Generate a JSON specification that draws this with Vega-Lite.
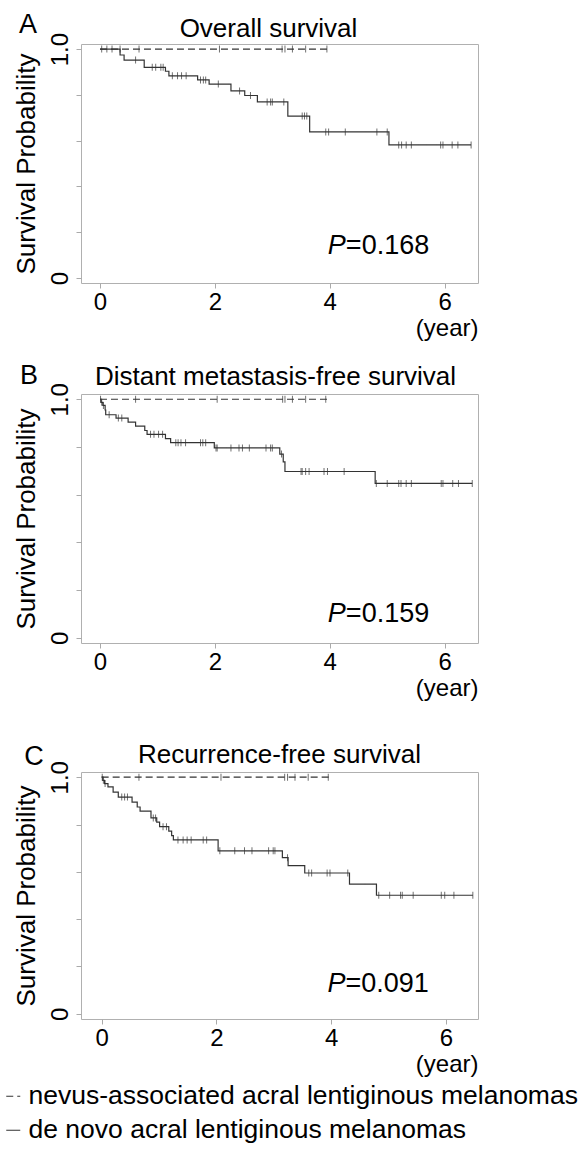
{
  "$schema": "https://vega.github.io/schema/vega-lite/v6.json",
  "autosize": {"type": "pad"},
  "padding": {"left": 0, "top": 10, "right": 0, "bottom": 0},
  "background": "white",
  "config": {
    "font": "Liberation Sans",
    "view": {"stroke": "#b0b0b0", "strokeWidth": 1},
    "title": {"fontSize": 26, "fontWeight": "normal", "font": "Liberation Sans", "color": "#000", "frame": "group", "anchor": "middle", "offset": 7},
    "axis": {"grid": false, "domain": false, "tickColor": "#aaaaaa", "tickSize": 5, "labelFontSize": 24, "titleFontWeight": "normal", "labelColor": "#000", "titleColor": "#000", "labelFlush": false, "labelOverlap": false, "labelFont": "Liberation Sans", "titleFont": "Liberation Sans"},
    "axisY": {"labelAngle": -90, "labelAlign": "center", "labelBaseline": "bottom", "labelPadding": 4, "titlePadding": 9, "titleFontSize": 26, "labelExpr": "datum.value==0?'0':datum.value==1?'1.0':''"},
    "axisX": {"labelPadding": 2, "titleAnchor": "end", "titleAlign": "right", "titlePadding": 2, "titleFontSize": 24},
    "line": {"color": "#333333", "strokeWidth": 1.2},
    "tick": {"color": "#333333", "thickness": 1, "size": 7},
    "text": {"color": "#000", "font": "Liberation Sans"},
    "legend": {"orient": "none", "legendX": -81, "legendY": 1039, "title": null, "padding": 0, "labelFontSize": 26.5, "labelFont": "Liberation Sans", "labelColor": "#000", "labelLimit": 1000, "symbolType": "stroke", "symbolSize": 196, "symbolStrokeWidth": 1.2, "symbolStrokeColor": "#333333", "labelOffset": 2, "rowPadding": 7, "direction": "vertical"}
  },
  "datasets": {
    "curves": [
      {"panel": "A", "g": "N", "time": 0, "surv": 1},
      {"panel": "A", "g": "N", "time": 3.97, "surv": 1},
      {"panel": "A", "g": "D", "time": 0, "surv": 1},
      {"panel": "A", "g": "D", "time": 0.35, "surv": 0.974},
      {"panel": "A", "g": "D", "time": 0.42, "surv": 0.952},
      {"panel": "A", "g": "D", "time": 0.77, "surv": 0.92},
      {"panel": "A", "g": "D", "time": 1.14, "surv": 0.903},
      {"panel": "A", "g": "D", "time": 1.2, "surv": 0.883},
      {"panel": "A", "g": "D", "time": 1.7, "surv": 0.865},
      {"panel": "A", "g": "D", "time": 1.9, "surv": 0.847},
      {"panel": "A", "g": "D", "time": 2.28, "surv": 0.817},
      {"panel": "A", "g": "D", "time": 2.52, "surv": 0.797},
      {"panel": "A", "g": "D", "time": 2.74, "surv": 0.769},
      {"panel": "A", "g": "D", "time": 3.27, "surv": 0.707},
      {"panel": "A", "g": "D", "time": 3.65, "surv": 0.638},
      {"panel": "A", "g": "D", "time": 5.03, "surv": 0.581},
      {"panel": "A", "g": "D", "time": 6.46, "surv": 0.581},
      {"panel": "B", "g": "N", "time": 0, "surv": 1},
      {"panel": "B", "g": "N", "time": 3.96, "surv": 1},
      {"panel": "B", "g": "D", "time": 0, "surv": 1},
      {"panel": "B", "g": "D", "time": 0.02, "surv": 0.987},
      {"panel": "B", "g": "D", "time": 0.05, "surv": 0.974},
      {"panel": "B", "g": "D", "time": 0.09, "surv": 0.955},
      {"panel": "B", "g": "D", "time": 0.1, "surv": 0.935},
      {"panel": "B", "g": "D", "time": 0.28, "surv": 0.921},
      {"panel": "B", "g": "D", "time": 0.49, "surv": 0.904},
      {"panel": "B", "g": "D", "time": 0.62, "surv": 0.887},
      {"panel": "B", "g": "D", "time": 0.78, "surv": 0.869},
      {"panel": "B", "g": "D", "time": 0.82, "surv": 0.853},
      {"panel": "B", "g": "D", "time": 1.14, "surv": 0.835},
      {"panel": "B", "g": "D", "time": 1.23, "surv": 0.818},
      {"panel": "B", "g": "D", "time": 1.99, "surv": 0.796},
      {"panel": "B", "g": "D", "time": 3.13, "surv": 0.77},
      {"panel": "B", "g": "D", "time": 3.19, "surv": 0.737},
      {"panel": "B", "g": "D", "time": 3.22, "surv": 0.697},
      {"panel": "B", "g": "D", "time": 4.79, "surv": 0.647},
      {"panel": "B", "g": "D", "time": 6.48, "surv": 0.647},
      {"panel": "C", "g": "N", "time": 0, "surv": 1},
      {"panel": "C", "g": "N", "time": 3.96, "surv": 1},
      {"panel": "C", "g": "D", "time": 0, "surv": 1},
      {"panel": "C", "g": "D", "time": 0.02, "surv": 0.987},
      {"panel": "C", "g": "D", "time": 0.05, "surv": 0.973},
      {"panel": "C", "g": "D", "time": 0.11, "surv": 0.959},
      {"panel": "C", "g": "D", "time": 0.2, "surv": 0.937},
      {"panel": "C", "g": "D", "time": 0.29, "surv": 0.916},
      {"panel": "C", "g": "D", "time": 0.53, "surv": 0.895},
      {"panel": "C", "g": "D", "time": 0.62, "surv": 0.874},
      {"panel": "C", "g": "D", "time": 0.67, "surv": 0.857},
      {"panel": "C", "g": "D", "time": 0.86, "surv": 0.828},
      {"panel": "C", "g": "D", "time": 0.96, "surv": 0.81},
      {"panel": "C", "g": "D", "time": 1.01, "surv": 0.791},
      {"panel": "C", "g": "D", "time": 1.17, "surv": 0.772},
      {"panel": "C", "g": "D", "time": 1.22, "surv": 0.753},
      {"panel": "C", "g": "D", "time": 1.25, "surv": 0.735},
      {"panel": "C", "g": "D", "time": 2.03, "surv": 0.689},
      {"panel": "C", "g": "D", "time": 3.15, "surv": 0.66},
      {"panel": "C", "g": "D", "time": 3.25, "surv": 0.626},
      {"panel": "C", "g": "D", "time": 3.54, "surv": 0.595},
      {"panel": "C", "g": "D", "time": 4.32, "surv": 0.548},
      {"panel": "C", "g": "D", "time": 4.79, "surv": 0.501},
      {"panel": "C", "g": "D", "time": 6.47, "surv": 0.501}
    ],
    "censor": [
      {"panel": "A", "time": 0.03, "surv": 1}, {"panel": "A", "time": 0.12, "surv": 1}, {"panel": "A", "time": 0.21, "surv": 1}, {"panel": "A", "time": 0.35, "surv": 1}, {"panel": "A", "time": 0.68, "surv": 1}, {"panel": "A", "time": 2.08, "surv": 1}, {"panel": "A", "time": 3.17, "surv": 1}, {"panel": "A", "time": 3.22, "surv": 1}, {"panel": "A", "time": 3.35, "surv": 1}, {"panel": "A", "time": 3.58, "surv": 1}, {"panel": "A", "time": 3.95, "surv": 1},
      {"panel": "A", "time": 0.62, "surv": 0.952}, {"panel": "A", "time": 0.91, "surv": 0.92}, {"panel": "A", "time": 0.97, "surv": 0.92}, {"panel": "A", "time": 1.06, "surv": 0.92}, {"panel": "A", "time": 1.1, "surv": 0.92},
      {"panel": "A", "time": 1.26, "surv": 0.883}, {"panel": "A", "time": 1.35, "surv": 0.883}, {"panel": "A", "time": 1.42, "surv": 0.883}, {"panel": "A", "time": 1.5, "surv": 0.883},
      {"panel": "A", "time": 1.75, "surv": 0.865}, {"panel": "A", "time": 1.8, "surv": 0.865}, {"panel": "A", "time": 1.84, "surv": 0.865}, {"panel": "A", "time": 2.06, "surv": 0.847}, {"panel": "A", "time": 2.43, "surv": 0.817}, {"panel": "A", "time": 2.62, "surv": 0.797},
      {"panel": "A", "time": 2.91, "surv": 0.769}, {"panel": "A", "time": 2.97, "surv": 0.769}, {"panel": "A", "time": 3.0, "surv": 0.769}, {"panel": "A", "time": 3.2, "surv": 0.769},
      {"panel": "A", "time": 3.52, "surv": 0.707}, {"panel": "A", "time": 3.56, "surv": 0.707}, {"panel": "A", "time": 3.6, "surv": 0.707},
      {"panel": "A", "time": 3.93, "surv": 0.638}, {"panel": "A", "time": 3.98, "surv": 0.638}, {"panel": "A", "time": 4.27, "surv": 0.638}, {"panel": "A", "time": 4.82, "surv": 0.638}, {"panel": "A", "time": 5.0, "surv": 0.638},
      {"panel": "A", "time": 5.2, "surv": 0.581}, {"panel": "A", "time": 5.25, "surv": 0.581}, {"panel": "A", "time": 5.33, "surv": 0.581}, {"panel": "A", "time": 5.42, "surv": 0.581}, {"panel": "A", "time": 5.93, "surv": 0.581}, {"panel": "A", "time": 5.97, "surv": 0.581}, {"panel": "A", "time": 6.13, "surv": 0.581}, {"panel": "A", "time": 6.23, "surv": 0.581}, {"panel": "A", "time": 6.46, "surv": 0.581},
      {"panel": "B", "time": 0.01, "surv": 1}, {"panel": "B", "time": 0.62, "surv": 1}, {"panel": "B", "time": 2.04, "surv": 1}, {"panel": "B", "time": 3.18, "surv": 1}, {"panel": "B", "time": 3.22, "surv": 1}, {"panel": "B", "time": 3.35, "surv": 1}, {"panel": "B", "time": 3.58, "surv": 1}, {"panel": "B", "time": 3.93, "surv": 1},
      {"panel": "B", "time": 0.03, "surv": 0.987}, {"panel": "B", "time": 0.06, "surv": 0.974}, {"panel": "B", "time": 0.16, "surv": 0.935}, {"panel": "B", "time": 0.32, "surv": 0.921}, {"panel": "B", "time": 0.38, "surv": 0.921},
      {"panel": "B", "time": 0.88, "surv": 0.853}, {"panel": "B", "time": 0.94, "surv": 0.853}, {"panel": "B", "time": 1.02, "surv": 0.853}, {"panel": "B", "time": 1.09, "surv": 0.853},
      {"panel": "B", "time": 1.32, "surv": 0.818}, {"panel": "B", "time": 1.36, "surv": 0.818}, {"panel": "B", "time": 1.41, "surv": 0.818}, {"panel": "B", "time": 1.49, "surv": 0.818}, {"panel": "B", "time": 1.75, "surv": 0.818}, {"panel": "B", "time": 1.79, "surv": 0.818}, {"panel": "B", "time": 1.84, "surv": 0.818},
      {"panel": "B", "time": 2.02, "surv": 0.796}, {"panel": "B", "time": 2.04, "surv": 0.796}, {"panel": "B", "time": 2.28, "surv": 0.796}, {"panel": "B", "time": 2.42, "surv": 0.796}, {"panel": "B", "time": 2.48, "surv": 0.796}, {"panel": "B", "time": 2.6, "surv": 0.796}, {"panel": "B", "time": 2.89, "surv": 0.796}, {"panel": "B", "time": 2.97, "surv": 0.796}, {"panel": "B", "time": 3.0, "surv": 0.796},
      {"panel": "B", "time": 3.16, "surv": 0.77},
      {"panel": "B", "time": 3.5, "surv": 0.697}, {"panel": "B", "time": 3.52, "surv": 0.697}, {"panel": "B", "time": 3.58, "surv": 0.697}, {"panel": "B", "time": 3.64, "surv": 0.697}, {"panel": "B", "time": 3.9, "surv": 0.697}, {"panel": "B", "time": 3.96, "surv": 0.697}, {"panel": "B", "time": 4.25, "surv": 0.697},
      {"panel": "B", "time": 4.81, "surv": 0.647}, {"panel": "B", "time": 5.0, "surv": 0.647}, {"panel": "B", "time": 5.2, "surv": 0.647}, {"panel": "B", "time": 5.24, "surv": 0.647}, {"panel": "B", "time": 5.33, "surv": 0.647}, {"panel": "B", "time": 5.42, "surv": 0.647}, {"panel": "B", "time": 5.94, "surv": 0.647}, {"panel": "B", "time": 5.97, "surv": 0.647}, {"panel": "B", "time": 6.14, "surv": 0.647}, {"panel": "B", "time": 6.24, "surv": 0.647}, {"panel": "B", "time": 6.48, "surv": 0.647},
      {"panel": "C", "time": 0.01, "surv": 1}, {"panel": "C", "time": 0.65, "surv": 1}, {"panel": "C", "time": 2.08, "surv": 1}, {"panel": "C", "time": 3.19, "surv": 1}, {"panel": "C", "time": 3.24, "surv": 1}, {"panel": "C", "time": 3.37, "surv": 1}, {"panel": "C", "time": 3.6, "surv": 1}, {"panel": "C", "time": 3.95, "surv": 1},
      {"panel": "C", "time": 0.03, "surv": 0.987}, {"panel": "C", "time": 0.06, "surv": 0.973}, {"panel": "C", "time": 0.35, "surv": 0.916}, {"panel": "C", "time": 0.4, "surv": 0.916}, {"panel": "C", "time": 0.45, "surv": 0.916},
      {"panel": "C", "time": 0.9, "surv": 0.828}, {"panel": "C", "time": 0.94, "surv": 0.828}, {"panel": "C", "time": 1.07, "surv": 0.791}, {"panel": "C", "time": 1.13, "surv": 0.791},
      {"panel": "C", "time": 1.33, "surv": 0.735}, {"panel": "C", "time": 1.42, "surv": 0.735}, {"panel": "C", "time": 1.49, "surv": 0.735}, {"panel": "C", "time": 1.56, "surv": 0.735}, {"panel": "C", "time": 1.77, "surv": 0.735}, {"panel": "C", "time": 1.83, "surv": 0.735},
      {"panel": "C", "time": 2.06, "surv": 0.689}, {"panel": "C", "time": 2.32, "surv": 0.689}, {"panel": "C", "time": 2.49, "surv": 0.689}, {"panel": "C", "time": 2.62, "surv": 0.689}, {"panel": "C", "time": 2.91, "surv": 0.689}, {"panel": "C", "time": 2.99, "surv": 0.689}, {"panel": "C", "time": 3.02, "surv": 0.689},
      {"panel": "C", "time": 3.24, "surv": 0.66},
      {"panel": "C", "time": 3.61, "surv": 0.595}, {"panel": "C", "time": 3.66, "surv": 0.595}, {"panel": "C", "time": 3.93, "surv": 0.595}, {"panel": "C", "time": 3.98, "surv": 0.595}, {"panel": "C", "time": 4.29, "surv": 0.595},
      {"panel": "C", "time": 4.83, "surv": 0.501}, {"panel": "C", "time": 5.02, "surv": 0.501}, {"panel": "C", "time": 5.21, "surv": 0.501}, {"panel": "C", "time": 5.24, "surv": 0.501}, {"panel": "C", "time": 5.43, "surv": 0.501}, {"panel": "C", "time": 5.92, "surv": 0.501}, {"panel": "C", "time": 5.98, "surv": 0.501}, {"panel": "C", "time": 6.14, "surv": 0.501}, {"panel": "C", "time": 6.47, "surv": 0.501}
    ],
    "ann": [
      {"panel": "A", "letter": "A", "p": "=0.168"},
      {"panel": "B", "letter": "B", "p": "=0.159"},
      {"panel": "C", "letter": "C", "p": "=0.091"}
    ]
  },
  "bounds": "flush",
  "spacing": 111,
  "resolve": {"scale": {"strokeDash": "shared"}, "legend": {"strokeDash": "shared"}},
  "vconcat": [
    {
      "width": 397, "height": 239,
      "title": {"text": "Overall survival", "dx": -11, "dy": 38},
      "layer": [
        {"data": {"name": "curves"}, "transform": [{"filter": "datum.panel=='A'"}], "mark": {"type": "line", "interpolate": "step-after"},
         "encoding": {
           "x": {"field": "time", "type": "quantitative", "title": "(year)", "scale": {"domain": [-0.33, 6.58], "nice": false, "zero": false}, "axis": {"values": [0, 2, 4, 6], "format": "d"}},
           "y": {"field": "surv", "type": "quantitative", "title": "Survival Probability", "scale": {"domain": [-0.022, 1.022], "nice": false, "zero": false}, "axis": {"values": [0, 0.2, 0.4, 0.6, 0.8, 1]}},
           "strokeDash": {"field": "g", "type": "nominal", "scale": {"domain": ["N", "D"], "range": [[7, 4], [1, 0]]}, "legend": {"labelExpr": "datum.value=='N'?'nevus-associated acral lentiginous melanomas':'de novo acral lentiginous melanomas'"}}}},
        {"data": {"name": "censor"}, "transform": [{"filter": "datum.panel=='A'"}], "mark": {"type": "tick", "orient": "vertical"},
         "encoding": {"x": {"field": "time", "type": "quantitative", "title": "(year)"}, "y": {"field": "surv", "type": "quantitative", "title": "Survival Probability"}}},
        {"data": {"name": "ann"}, "transform": [{"filter": "datum.panel=='A'"}], "mark": {"type": "text", "align": "left", "baseline": "alphabetic", "fontSize": 27},
         "encoding": {"x": {"datum": -1.41, "type": "quantitative"}, "y": {"datum": 1.07, "type": "quantitative"}, "text": {"field": "letter"}}},
        {"data": {"name": "ann"}, "transform": [{"filter": "datum.panel=='A'"}], "mark": {"type": "text", "align": "right", "baseline": "alphabetic", "fontSize": 27, "fontStyle": "italic", "text": "P"},
         "encoding": {"x": {"datum": 4.28, "type": "quantitative"}, "y": {"datum": 0.103, "type": "quantitative"}}},
        {"data": {"name": "ann"}, "transform": [{"filter": "datum.panel=='A'"}], "mark": {"type": "text", "align": "left", "baseline": "alphabetic", "fontSize": 27},
         "encoding": {"x": {"datum": 4.28, "type": "quantitative"}, "y": {"datum": 0.103, "type": "quantitative"}, "text": {"field": "p"}}}
      ]
    },
    {
      "bounds": "flush",
      "spacing": 129,
      "resolve": {"scale": {"strokeDash": "shared"}, "legend": {"strokeDash": "shared"}},
      "vconcat": [
        {
          "width": 397, "height": 249,
          "title": {"text": "Distant metastasis-free survival", "dx": -4, "dy": 35},
          "layer": [
            {"data": {"name": "curves"}, "transform": [{"filter": "datum.panel=='B'"}], "mark": {"type": "line", "interpolate": "step-after"},
             "encoding": {
               "x": {"field": "time", "type": "quantitative", "title": "(year)", "scale": {"domain": [-0.33, 6.58], "nice": false, "zero": false}, "axis": {"values": [0, 2, 4, 6], "format": "d"}},
               "y": {"field": "surv", "type": "quantitative", "title": "Survival Probability", "scale": {"domain": [-0.022, 1.022], "nice": false, "zero": false}, "axis": {"values": [0, 0.2, 0.4, 0.6, 0.8, 1]}},
               "strokeDash": {"field": "g", "type": "nominal", "scale": {"domain": ["N", "D"], "range": [[7, 4], [1, 0]]}, "legend": {"labelExpr": "datum.value=='N'?'nevus-associated acral lentiginous melanomas':'de novo acral lentiginous melanomas'"}}}},
            {"data": {"name": "censor"}, "transform": [{"filter": "datum.panel=='B'"}], "mark": {"type": "tick", "orient": "vertical"},
             "encoding": {"x": {"field": "time", "type": "quantitative", "title": "(year)"}, "y": {"field": "surv", "type": "quantitative", "title": "Survival Probability"}}},
            {"data": {"name": "ann"}, "transform": [{"filter": "datum.panel=='B'"}], "mark": {"type": "text", "align": "left", "baseline": "alphabetic", "fontSize": 27},
             "encoding": {"x": {"datum": -1.39, "type": "quantitative"}, "y": {"datum": 1.062, "type": "quantitative"}, "text": {"field": "letter"}}},
            {"data": {"name": "ann"}, "transform": [{"filter": "datum.panel=='B'"}], "mark": {"type": "text", "align": "right", "baseline": "alphabetic", "fontSize": 27, "fontStyle": "italic", "text": "P"},
             "encoding": {"x": {"datum": 4.28, "type": "quantitative"}, "y": {"datum": 0.068, "type": "quantitative"}}},
            {"data": {"name": "ann"}, "transform": [{"filter": "datum.panel=='B'"}], "mark": {"type": "text", "align": "left", "baseline": "alphabetic", "fontSize": 27},
             "encoding": {"x": {"datum": 4.28, "type": "quantitative"}, "y": {"datum": 0.068, "type": "quantitative"}, "text": {"field": "p"}}}
          ]
        },
        {
          "width": 397, "height": 247,
          "title": {"text": "Recurrence-free survival", "dx": 0, "dy": 32},
          "layer": [
            {"data": {"name": "curves"}, "transform": [{"filter": "datum.panel=='C'"}], "mark": {"type": "line", "interpolate": "step-after"},
             "encoding": {
               "x": {"field": "time", "type": "quantitative", "title": "(year)", "scale": {"domain": [-0.36, 6.56], "nice": false, "zero": false}, "axis": {"values": [0, 2, 4, 6], "format": "d"}},
               "y": {"field": "surv", "type": "quantitative", "title": "Survival Probability", "scale": {"domain": [-0.022, 1.022], "nice": false, "zero": false}, "axis": {"values": [0, 0.2, 0.4, 0.6, 0.8, 1]}},
               "strokeDash": {"field": "g", "type": "nominal", "scale": {"domain": ["N", "D"], "range": [[7, 4], [1, 0]]}, "legend": {"labelExpr": "datum.value=='N'?'nevus-associated acral lentiginous melanomas':'de novo acral lentiginous melanomas'"}}}},
            {"data": {"name": "censor"}, "transform": [{"filter": "datum.panel=='C'"}], "mark": {"type": "tick", "orient": "vertical"},
             "encoding": {"x": {"field": "time", "type": "quantitative", "title": "(year)"}, "y": {"field": "surv", "type": "quantitative", "title": "Survival Probability"}}},
            {"data": {"name": "ann"}, "transform": [{"filter": "datum.panel=='C'"}], "mark": {"type": "text", "align": "left", "baseline": "alphabetic", "fontSize": 27},
             "encoding": {"x": {"datum": -1.35, "type": "quantitative"}, "y": {"datum": 1.051, "type": "quantitative"}, "text": {"field": "letter"}}},
            {"data": {"name": "ann"}, "transform": [{"filter": "datum.panel=='C'"}], "mark": {"type": "text", "align": "right", "baseline": "alphabetic", "fontSize": 27, "fontStyle": "italic", "text": "P"},
             "encoding": {"x": {"datum": 4.25, "type": "quantitative"}, "y": {"datum": 0.092, "type": "quantitative"}}},
            {"data": {"name": "ann"}, "transform": [{"filter": "datum.panel=='C'"}], "mark": {"type": "text", "align": "left", "baseline": "alphabetic", "fontSize": 27},
             "encoding": {"x": {"datum": 4.25, "type": "quantitative"}, "y": {"datum": 0.092, "type": "quantitative"}, "text": {"field": "p"}}}
          ]
        }
      ]
    }
  ]
}
